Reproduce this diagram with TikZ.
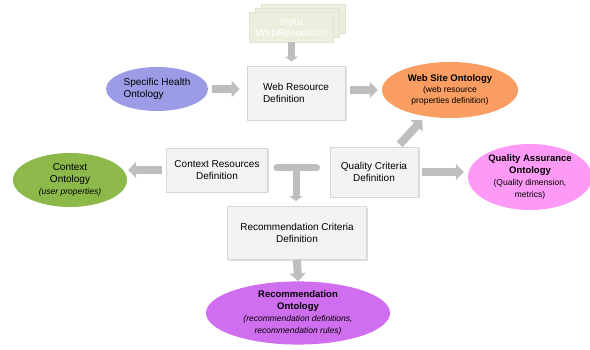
\documentclass[tikz,border=0pt]{standalone}
\usepackage{fontspec}
\setmainfont{Liberation Sans}
\usetikzlibrary{shapes.geometric,arrows.meta,shadows}
\definecolor{arr}{HTML}{BEBEBE}
\definecolor{boxfill}{HTML}{F3F3F3}
\definecolor{boxline}{HTML}{D6D6D6}
\definecolor{inputfill}{HTML}{EEEEDF}
\definecolor{inputline}{HTML}{E2E2D0}
\definecolor{lav}{HTML}{9C9CE6}
\definecolor{orng}{HTML}{F99D62}
\definecolor{grn}{HTML}{8DB84A}
\definecolor{pnk}{HTML}{FD9AF6}
\definecolor{vio}{HTML}{D06EF0}
\begin{document}
\begin{tikzpicture}[x=1pt,y=-1pt,
  every node/.style={font=\fontsize{10}{12}\selectfont, inner sep=0pt},
  defbox/.style={rectangle, draw=boxline, fill=boxfill, line width=0.8pt,
    drop shadow={shadow xshift=1.5pt, shadow yshift=-1.5pt, opacity=0.25}},
  inbox/.style={rectangle, draw=inputline, fill=inputfill, line width=0.6pt},
  onto/.style={ellipse, draw=none, align=center},
  barrow/.style={draw=arr, line width=8pt, -{Triangle[length=8pt,width=16pt]}},
  sarrow/.style={draw=arr, line width=7pt, -{Triangle[length=5pt,width=13pt]}},
]
\useasboundingbox (0,0) rectangle (590,350);

% input stack
\node[inbox, minimum width=84pt, minimum height=29pt] (in3) at (303,18.5) {};
\node[inbox, minimum width=84pt, minimum height=29pt] (in2) at (297,22.5) {};
\node[inbox, minimum width=84pt, minimum height=30pt, align=center, text=white,
  font=\fontsize{10.5}{11}\selectfont] (in) at (291.5,27) {Input\\WebResources};

% definition boxes
\node[defbox, minimum width=98pt, minimum height=54pt, align=left] (wrd) at (296,93) {Web Resource\\ Definition};
\node[defbox, minimum width=101pt, minimum height=44pt, align=center] (crd) at (217,170) {Context Resources\\Definition};
\node[defbox, minimum width=88pt, minimum height=50pt, align=center] (qcd) at (374,172) {Quality Criteria\\Definition};
\node[defbox, minimum width=139pt, minimum height=53pt, align=center] (rcd) at (297,233) {Recommendation Criteria\\Definition};

% ontologies
\node[onto, fill=lav, minimum width=102pt, minimum height=44pt, align=left] (sho) at (157,89) {Specific Health\\ Ontology};
\node[onto, fill=orng, minimum width=136pt, minimum height=56pt] (wso) at (450,90)
  {{\fontsize{9.5}{11}\selectfont\bfseries Web Site Ontology}\\[-1pt]{\fontsize{8.5}{9.5}\selectfont (web resource}\\[-1pt]{\fontsize{8.5}{9.5}\selectfont properties definition)}};
\node[onto, fill=grn, minimum width=114pt, minimum height=54pt] (ctx) at (70,180)
  {Context\\Ontology\\{\fontsize{8.5}{9.5}\selectfont\itshape (user properties)}};
\node[onto, fill=pnk, minimum width=124pt, minimum height=66pt] (qao) at (530,177)
  {{\fontsize{9.5}{10.5}\selectfont\bfseries Quality Assurance}\\{\fontsize{9.5}{10.5}\selectfont\bfseries Ontology}\\{\fontsize{8.5}{9.5}\selectfont (Quality dimension,}\\{\fontsize{8.5}{9.5}\selectfont metrics)}};
\node[onto, fill=vio, minimum width=184pt, minimum height=60pt] (ro) at (298,313)
  {{\fontsize{9.5}{10}\selectfont\bfseries Recommendation}\\{\fontsize{9.5}{10}\selectfont\bfseries Ontology}\\{\fontsize{8.5}{9.5}\selectfont\itshape (recommendation definitions,}\\{\fontsize{8.5}{9.5}\selectfont\itshape recommendation rules)}};

% block arrows
\draw[sarrow, shorten >=4pt] (in) -- (in |- wrd.north);
\draw[barrow, shorten <=4pt, shorten >=7pt] (sho.east) -- (sho.east -| wrd.west);
\draw[barrow, shorten <=5pt, shorten >=4pt] (wrd.east |- wso) -- (wso.west);
\draw[barrow, shorten <=4pt, shorten >=1pt] (crd.west) -- (crd.west -| ctx.east);
\draw[barrow, shorten <=4pt, shorten >=4pt] (qcd.east) -- (qcd.east -| qao.west);
\draw[barrow, shorten <=3pt, shorten >=5pt] (qcd) -- (wso);
\draw[barrow, shorten <=0pt, shorten >=0pt] (rcd.south) -- (ro.north);

% T-shaped merge arrow
\coordinate (tj) at (296,168);
\draw[draw=arr, line width=7pt, line cap=round] ([xshift=9pt]crd.east |- tj) -- ([xshift=-13pt]qcd.west |- tj);
\draw[sarrow, shorten >=5pt] (tj) -- (tj |- rcd.north);
\end{tikzpicture}
\end{document}
